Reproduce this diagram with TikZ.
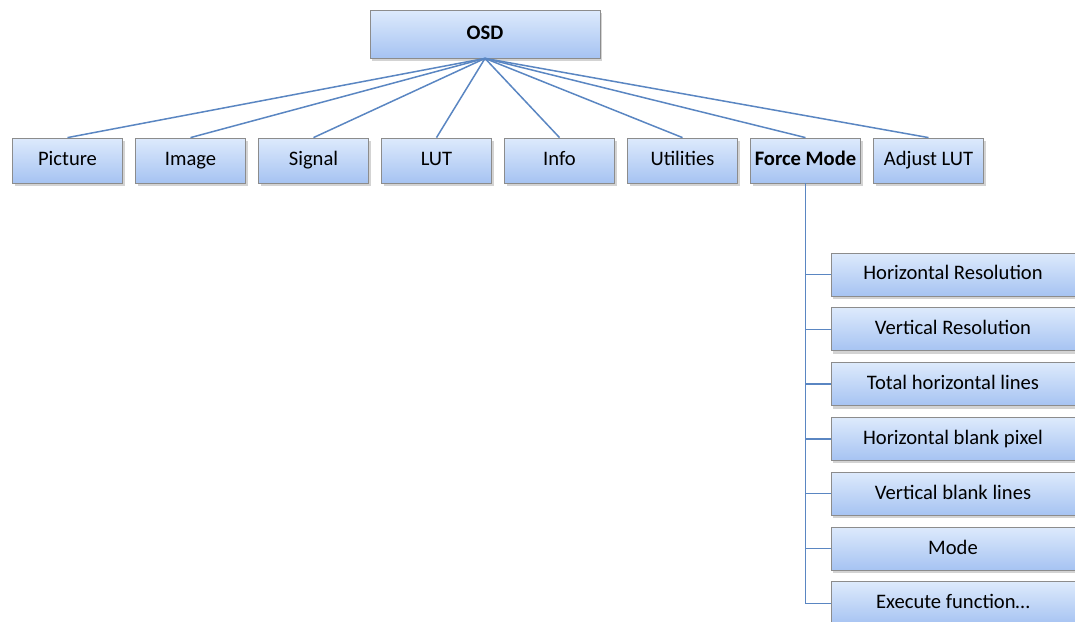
\documentclass[tikz,border=0pt]{standalone}
\usepackage{fontspec}
\setmainfont{Carlito}
\usetikzlibrary{positioning, shadows}

\definecolor{boxtop}{HTML}{DDEAFC}
\definecolor{boxbottom}{HTML}{A6C3F2}
\definecolor{boxline}{HTML}{8C8C8C}
\definecolor{linkblue}{HTML}{5A86C2}

\begin{document}
\begin{tikzpicture}[
    x=0.5pt, y=-0.5pt,
    node distance=6.1pt,
    box/.style={
        draw=boxline,
        top color=boxtop,
        bottom color=boxbottom,
        drop shadow={opacity=0.35, shadow xshift=1pt, shadow yshift=-1.5pt},
        align=center,
        font=\fontsize{10.3}{12}\selectfont,
        text height=1.45ex,
        text depth=0.3ex,
        minimum width=55pt,
        minimum height=22.5pt,
        inner sep=1pt
    },
    subbox/.style={
        box,
        minimum width=122pt,
        minimum height=21.5pt
    },
    link/.style={
        draw=linkblue,
        line width=0.75pt
    }
]
\useasboundingbox (0,0) rectangle (1075,621);

\node[box, minimum width=115pt, minimum height=24pt, font=\fontsize{10.3}{12}\selectfont\bfseries] (osd) at (485,34) {OSD};

\node[box] (picture) at (67.5,160.5) {Picture};
\node[box, right=of picture] (image) {Image};
\node[box, right=of image] (signal) {Signal};
\node[box, right=of signal] (lut) {LUT};
\node[box, right=of lut] (info) {Info};
\node[box, right=of info] (utilities) {Utilities};
\node[box, right=of utilities, font=\fontsize{10.3}{12}\selectfont\bfseries] (forcemode) {Force Mode};
\node[box, right=of forcemode] (adjustlut) {Adjust LUT};

\node[subbox] (hres) at (953,274.5) {Horizontal Resolution};
\node[subbox, below=5.5pt of hres] (vres) {Vertical Resolution};
\node[subbox, below=5.5pt of vres] (hlines) {Total horizontal lines};
\node[subbox, below=5.5pt of hlines] (hblank) {Horizontal blank pixel};
\node[subbox, below=5.5pt of hblank] (vblank) {Vertical blank lines};
\node[subbox, below=5.5pt of vblank] (mode) {Mode};
\node[subbox, below=5.5pt of mode] (execute) {Execute function\dots};

\draw[link] (osd.south) -- (picture.north);
\draw[link] (osd.south) -- (image.north);
\draw[link] (osd.south) -- (signal.north);
\draw[link] (osd.south) -- (lut.north);
\draw[link] (osd.south) -- (info.north);
\draw[link] (osd.south) -- (utilities.north);
\draw[link] (osd.south) -- (forcemode.north);
\draw[link] (osd.south) -- (adjustlut.north);

\draw[link] (forcemode.south) |- (hres.west);
\draw[link] (forcemode.south) |- (vres.west);
\draw[link] (forcemode.south) |- (hlines.west);
\draw[link] (forcemode.south) |- (hblank.west);
\draw[link] (forcemode.south) |- (vblank.west);
\draw[link] (forcemode.south) |- (mode.west);
\draw[link] (forcemode.south) |- (execute.west);

\end{tikzpicture}
\end{document}
